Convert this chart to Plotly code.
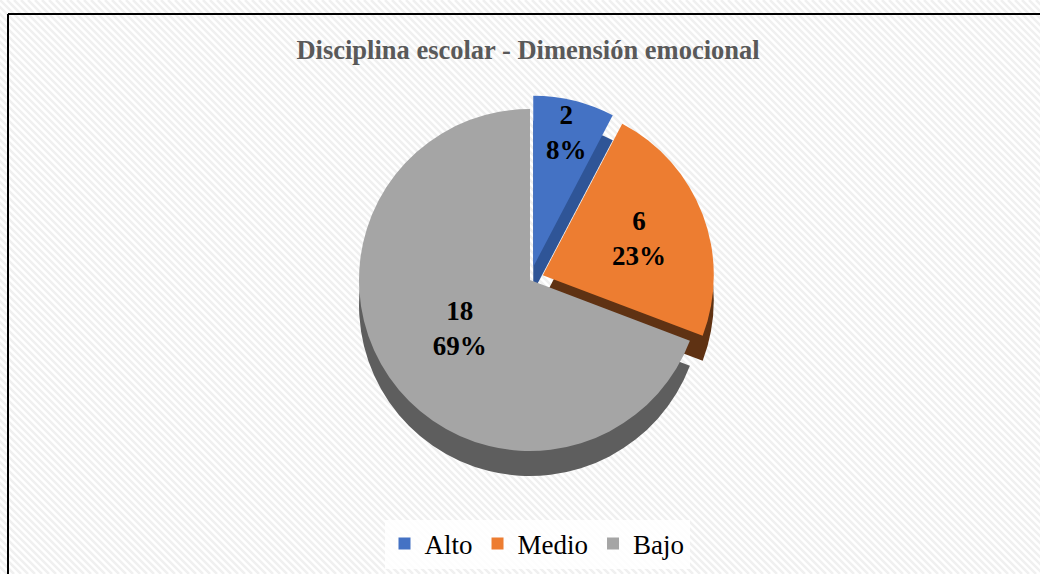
import plotly.graph_objects as go

categories = ["Alto", "Medio", "Bajo"]
values = [2, 6, 18]
colors = ["#4472C4", "#ED7D31", "#A5A5A5"]
side_colors = ["#2F5597", "#5F3213", "#5E5E5E"]
pulls = [0.08, 0.08, 0.0]

W, H = 1040, 574
cx, cy, r = 530, 280, 171
depth = 25
R = r * 1.08
FONT = "Times New Roman, Liberation Serif, serif"

def dom(cx, cy, R):
    return dict(x=[(cx - R) / W, (cx + R) / W], y=[1 - (cy + R) / H, 1 - (cy - R) / H])

fig = go.Figure()
fig.add_trace(go.Pie(
    labels=categories, values=values, sort=False, direction="clockwise", rotation=0,
    pull=pulls, marker=dict(colors=side_colors, line=dict(width=0)),
    textinfo="none", hoverinfo="skip", showlegend=False, domain=dom(cx, cy + depth, R),
))
fig.add_trace(go.Pie(
    labels=categories, values=values, sort=False, direction="clockwise", rotation=0,
    pull=pulls, marker=dict(colors=colors, line=dict(width=0)),
    texttemplate="<b>%{value}<br>%{percent:.0%}</b>", textposition="inside",
    insidetextorientation="horizontal",
    textfont=dict(family=FONT, size=27, color="black"),
    domain=dom(cx, cy, R),
))

shapes = []
step = 7
for k in range(-H, W + H, step):
    shapes.append(dict(type="line", xref="paper", yref="paper",
                       x0=k / W, y0=1, x1=(k + H) / W, y1=0,
                       line=dict(color="#F0F0F0", width=2.5), layer="below"))
shapes.append(dict(type="line", xref="paper", yref="paper", x0=8 / W, y0=1 - 14 / H, x1=1.01, y1=1 - 14 / H,
                   line=dict(color="black", width=2)))
shapes.append(dict(type="line", xref="paper", yref="paper", x0=8 / W, y0=1 - 14 / H, x1=8 / W, y1=-0.01,
                   line=dict(color="black", width=2)))

fig.update_layout(
    width=W, height=H,
    margin=dict(l=0, r=0, t=0, b=0),
    paper_bgcolor="white", plot_bgcolor="white",
    uniformtext=dict(minsize=27, mode="show"),
    title=dict(text="<b>Disciplina escolar - Dimensión emocional</b>", x=528 / W, xanchor="center",
               y=1 - 50 / H, yanchor="middle",
               font=dict(family=FONT, size=26.5, color="#595959")),
    legend=dict(orientation="h", x=537 / W, xanchor="center", y=1 - 544 / H, yanchor="middle",
                font=dict(family=FONT, size=27, color="black"),
                bgcolor="rgba(255,255,255,0.85)"),
    shapes=shapes,
)

fig.write_html("out.html", config={"displayModeBar": False},
               post_script="document.body.style.margin='0';document.body.style.overflow='hidden';")
